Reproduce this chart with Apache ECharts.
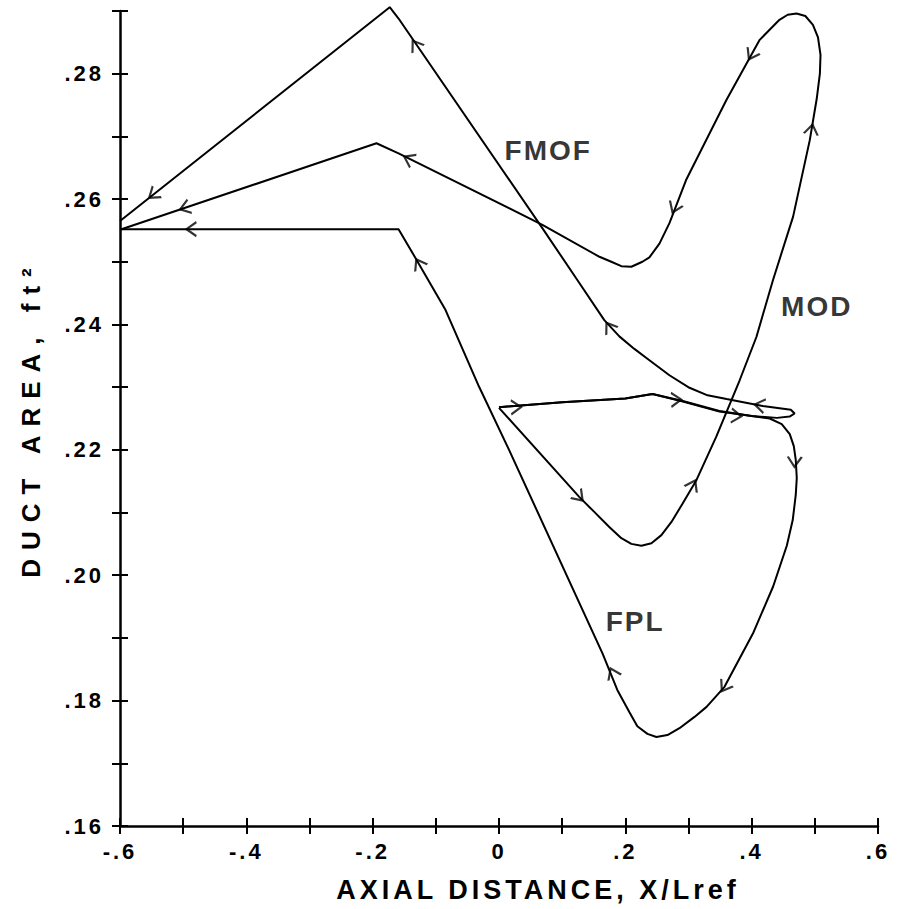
<!DOCTYPE html>
<html>
<head>
<meta charset="utf-8">
<script src="https://cdn.jsdelivr.net/npm/echarts@6/dist/echarts.min.js"></script>
<style>
html, body { margin: 0; padding: 0; background: #fff; }
#main { width: 898px; height: 909px; }
#main text[style*="27px"] { letter-spacing: 4px; }
#main text[style*="26px"] { letter-spacing: 9px; }
#main text[style*="28px"] { letter-spacing: 2px; }
#main text[style*="22px"] { letter-spacing: 3px; }
</style>
</head>
<body>
<div id="main"></div>
<script>
// duct area traces, in travel order (x = X/Lref, y = area ft^2)
var fmof = [
  [0.000, 0.2268], [0.100, 0.2276], [0.200, 0.2282], [0.243, 0.2289],
  [0.291, 0.2278], [0.349, 0.2262], [0.400, 0.2254], [0.440, 0.2251],
  [0.460, 0.2253], [0.468, 0.2258], [0.462, 0.2264], [0.4175, 0.2270],
  [0.3603, 0.2281], [0.3302, 0.2287], [0.3016, 0.2299], [0.2698, 0.2319],
  [0.2381, 0.2343], [0.2143, 0.2361], [0.1905, 0.2381], [0.1667, 0.2407],
  [0.124, 0.2471], [0.067, 0.2556], [-0.159, 0.2888], [-0.173, 0.2906],
  [-0.600, 0.2565]
];
var mod = [
  [0.000, 0.2267], [0.127, 0.2125], [0.1508, 0.2101], [0.1746, 0.2077],
  [0.1937, 0.2059], [0.2095, 0.2050], [0.2254, 0.2047], [0.2413, 0.2051],
  [0.2571, 0.2064], [0.273, 0.2085], [0.2905, 0.2114], [0.3127, 0.2152],
  [0.344, 0.2221], [0.381, 0.2311], [0.4075, 0.2380], [0.4338, 0.2471],
  [0.4656, 0.2572], [0.492, 0.2694], [0.503, 0.2760], [0.508, 0.2800],
  [0.509, 0.2830], [0.505, 0.2858], [0.497, 0.2878], [0.485, 0.2892],
  [0.471, 0.2896], [0.457, 0.2894], [0.444, 0.2886], [0.4127, 0.2854],
  [0.360, 0.2758], [0.3175, 0.2673], [0.296, 0.2630], [0.270, 0.2562],
  [0.254, 0.2529], [0.2381, 0.2507], [0.227, 0.2500], [0.2095, 0.2492],
  [0.1937, 0.2493], [0.1778, 0.2500], [0.159, 0.2508], [0.0687, 0.2559],
  [-0.159, 0.2673], [-0.194, 0.2689], [-0.600, 0.2551]
];
var fpl = [
  [0.000, 0.2268], [0.100, 0.2276], [0.200, 0.2282], [0.243, 0.2289],
  [0.291, 0.2277], [0.349, 0.2261], [0.400, 0.2254], [0.4286, 0.2250],
  [0.4476, 0.2241], [0.4603, 0.2225], [0.4667, 0.2206], [0.4698, 0.2184],
  [0.4714, 0.2155], [0.4698, 0.2128], [0.465, 0.2088], [0.4556, 0.2047],
  [0.434, 0.1982], [0.402, 0.1907], [0.357, 0.1822], [0.3286, 0.1790],
  [0.3095, 0.1774], [0.2857, 0.1756], [0.2667, 0.1745], [0.2492, 0.1742],
  [0.235, 0.1747], [0.219, 0.1759], [0.2063, 0.1782], [0.1873, 0.1817],
  [0.164, 0.1875], [0.0159, 0.2200], [-0.0317, 0.2301], [-0.0846, 0.2423],
  [-0.127, 0.2497], [-0.159, 0.2552], [-0.600, 0.2552]
];
// arrowheads on the traces: x, y, heading (deg, ccw from up)
var arrows = [
  [-0.5476, 0.2607, 128], [-0.1322, 0.2846, 34], [0.1746, 0.2396, 34],
  [0.4127, 0.2271, 80], [0.2805, 0.2280, -88], [0.027, 0.2268, -88],
  [0.3757, 0.2254, -95],
  [0.127, 0.2125, -137], [0.307, 0.2144, -28], [0.495, 0.2711, -10],
  [0.3995, 0.2830, 151], [0.2778, 0.2586, 157], [-0.1429, 0.2664, 63],
  [-0.4973, 0.2586, 108],
  [0.468, 0.2181, 178], [0.357, 0.1822, 148], [0.180, 0.1844, 25],
  [-0.127, 0.2497, 30], [-0.487, 0.2552, 90]
];
var curveNames = ['FMOF', 'MOD', 'FPL'];
var curveLabelPos = [[0.078, 0.2678], [0.503, 0.2428], [0.2156, 0.1926]];

var myChart = echarts.init(document.getElementById('main'), null, {renderer: 'svg'});

var font = 'Liberation Sans';
function xFmt(v) {
    var r = Math.round(v * 10);
    if (r % 2 !== 0) return '';
    if (r === 0) return '0';
    return (r < 0 ? '-.' : '.') + Math.abs(r);
}
function yFmt(v) {
    var r = Math.round(v * 100);
    if (r % 2 !== 0) return '';
    return '.' + r;
}
var axisLine = { onZero: false, lineStyle: { color: '#000', width: 2.5 } };
var tickStyle = { color: '#000', width: 2 };

var lineSeries = function(name, data) {
    return {
        name: name,
        type: 'line',
        data: data,
        showSymbol: false,
        clip: false,
        lineStyle: { color: '#000', width: 2 },
        z: 3
    };
};

option = {
    animation: false,
    backgroundColor: '#fff',
    grid: { left: 120, right: 20, top: 11, bottom: 83 },
    xAxis: [{
        type: 'value',
        min: -0.6,
        max: 0.6,
        interval: 0.1,
        name: 'AXIAL DISTANCE, X/Lref',
        nameLocation: 'middle',
        nameGap: 50,
        nameTextStyle: { color: '#000', fontSize: 27, fontWeight: 'bold', fontFamily: font, padding: [0, 0, 0, 78] },
        axisLine: axisLine,
        axisTick: { show: true, length: 8, lineStyle: tickStyle },
        axisLabel: { formatter: xFmt, color: '#000', fontSize: 22, fontWeight: 'bold', fontFamily: font, margin: 14 },
        splitLine: { show: false }
    }, {
        type: 'value',
        min: -0.6,
        max: 0.6,
        interval: 0.1,
        position: 'bottom',
        axisLine: { show: false, onZero: false },
        axisTick: { show: true, inside: true, length: 8, lineStyle: tickStyle },
        axisLabel: { show: false },
        splitLine: { show: false }
    }],
    yAxis: [{
        type: 'value',
        min: 0.16,
        max: 0.29,
        interval: 0.01,
        name: 'DUCT AREA, ft\u00b2',
        nameLocation: 'middle',
        nameGap: 76,
        nameTextStyle: { color: '#000', fontSize: 26, fontWeight: 'bold', fontFamily: font },
        axisLine: axisLine,
        axisTick: { show: true, length: 8, lineStyle: tickStyle },
        axisLabel: { formatter: yFmt, color: '#000', fontSize: 22, fontWeight: 'bold', fontFamily: font, margin: 16 },
        splitLine: { show: false }
    }, {
        type: 'value',
        min: 0.16,
        max: 0.29,
        interval: 0.01,
        position: 'left',
        axisLine: { show: false, onZero: false },
        axisTick: { show: true, inside: true, length: 8, lineStyle: tickStyle },
        axisLabel: { show: false },
        splitLine: { show: false }
    }],
    series: [
        lineSeries('FMOF', fmof),
        lineSeries('MOD', mod),
        lineSeries('FPL', fpl),
        {
            name: 'arrows',
            type: 'scatter',
            data: arrows,
            symbol: 'path://M0,10L5,0L10,10',
            symbolSize: [14, 10],
            symbolRotate: function(val) { return val[2]; },
            itemStyle: { color: 'rgba(0,0,0,0)', borderColor: '#000', borderWidth: 2 },
            clip: false,
            z: 4
        },
        {
            name: 'labels',
            type: 'scatter',
            data: curveNames.map(function(n, i) {
                return { name: n, value: curveLabelPos[i] };
            }),
            symbolSize: 0,
            label: {
                show: true,
                position: 'inside',
                formatter: '{b}',
                color: '#000',
                fontSize: 28,
                fontWeight: 'bold',
                fontFamily: font
            },
            z: 5
        }
    ]
};

myChart.setOption(option);
</script>
</body>
</html>
